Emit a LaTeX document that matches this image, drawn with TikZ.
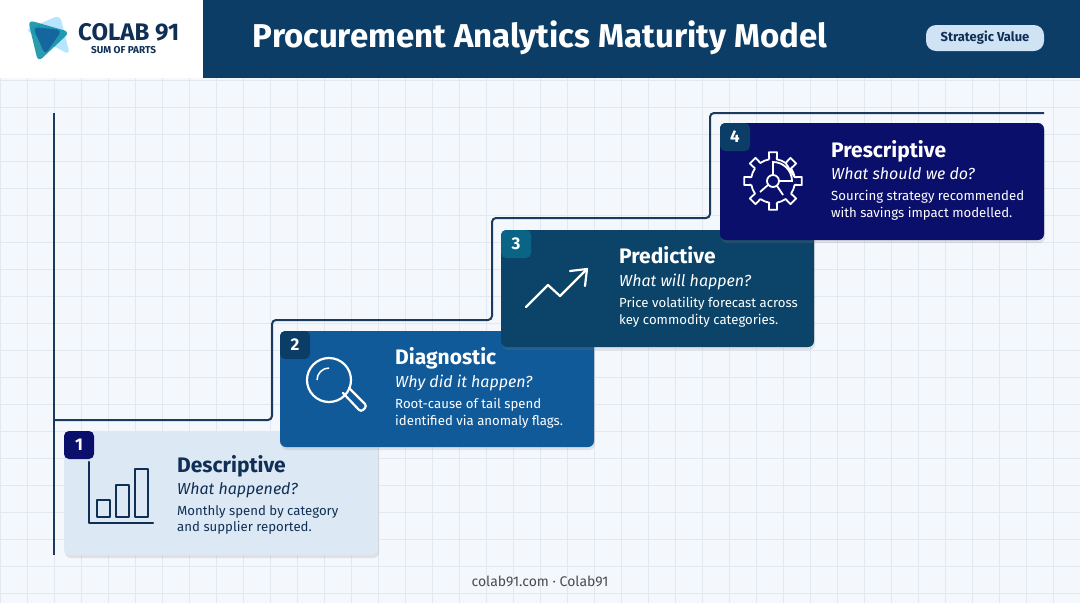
\documentclass[tikz,border=0pt]{standalone}
\usepackage{fontspec}
\setmainfont{Fira Sans}
\usetikzlibrary{shadows,calc}
\definecolor{bg}{HTML}{F4F7FB}
\definecolor{gridc}{HTML}{E2E8EF}
\definecolor{hdr}{HTML}{0B3D66}
\definecolor{stair}{HTML}{1B3A5C}
\definecolor{cA}{HTML}{DDE8F5}
\definecolor{cB}{HTML}{115A9A}
\definecolor{cC}{HTML}{0B4468}
\definecolor{cD}{HTML}{0A0F6B}
\definecolor{ink}{HTML}{0F2F55}
\definecolor{pill}{HTML}{CFE3F5}
\tikzset{
 card/.style={rounded corners=6pt,drop shadow={opacity=0.18,shadow xshift=1pt,shadow yshift=-3pt}},
 badge/.style={text=white,font=\bfseries\fontsize{17}{17}\selectfont,anchor=center},
 ttl/.style={anchor=base west,inner sep=0pt,font=\bfseries\fontsize{21}{21}\selectfont},
 qst/.style={anchor=base west,inner sep=0pt,font=\itshape\fontsize{16}{16}\selectfont},
 dsc/.style={anchor=north west,inner sep=0pt,align=left,font=\fontsize{13.2}{16.5}\selectfont},
 icon/.style={line width=2.2pt,line cap=round,line join=round}
}
\begin{document}
\begin{tikzpicture}[x=1pt,y=-1pt]
\useasboundingbox (0,0) rectangle (1080,603);
\fill[bg] (0,0) rectangle (1080,603);
\foreach \i in {0,...,40} {\draw[gridc,line width=0.6pt] (\i*27,78) -- (\i*27,603);}
\foreach \j in {0,...,20} {\draw[gridc,line width=0.6pt] (0,80+\j*27) -- (1080,80+\j*27);}
% header
\fill[white] (0,0) rectangle (203,78);
\fill[hdr] (203,0) rectangle (1080,78);
\node[text=white,font=\bfseries\fontsize{33}{33}\selectfont] (title) at (540,38) {Procurement Analytics Maturity Model};
\node[fill=pill,rounded corners=10pt,minimum width=118pt,minimum height=26pt,text=ink,font=\bfseries\fontsize{13}{13}\selectfont] (pill) at (985,38) {Strategic Value};
% logo
\fill[blue!35!cyan!40!white,opacity=0.7,rounded corners=6pt] (25,30) -- (60,15) -- (70,55) -- cycle;
\fill[hdr!60!cyan,opacity=0.85,rounded corners=6pt] (28,20) -- (70,32) -- (38,62) -- cycle;
\fill[cB,opacity=0.8,rounded corners=5pt] (33,27) -- (62,30) -- (45,55) -- cycle;
\node[anchor=west,inner sep=0pt,text=ink,font=\bfseries\fontsize{24}{24}\selectfont] (logo) at (78,32) {COLAB 91};
\node[anchor=west,inner sep=0pt,text=ink,font=\bfseries\fontsize{10}{10}\selectfont] (sub) at (91,50) {SUM OF PARTS};
% staircase
\draw[stair,line width=2pt,rounded corners=4pt] (54,555) -- (54,113);
\draw[stair,line width=2pt,rounded corners=4pt] (54,420) -- (272,420) -- (272,320) -- (492,320) -- (492,218) -- (710,218) -- (710,113) -- (1044,113);
% card 1
\fill[cA,card] (64,431) rectangle (378,555);
\fill[cD,rounded corners=5pt] (64,431) rectangle (94,459);
\node[badge] (b1) at (79,445) {1};
\node[ttl,text=ink] (t1) at (177,472) {Descriptive};
\node[qst,text=ink] (q1) at (177,494) {What happened?};
\node[dsc,text=ink] (d1) at (177,505) {Monthly spend by category\\and supplier reported.};
\draw[ink,icon] (89,462) -- (89,523) -- (153,523);
\draw[ink,icon] (97,500) rectangle (110,517) (116,485) rectangle (129,517) (135,469) rectangle (148,517);
% card 2
\fill[cB,card] (280,331) rectangle (594,447);
\fill[hdr,rounded corners=5pt] (280,331) rectangle (310,359);
\node[badge] (b2) at (295,345) {2};
\node[ttl,text=white] (t2) at (395,364) {Diagnostic};
\node[qst,text=white] (q2) at (395,387) {Why did it happen?};
\node[dsc,text=white] (d2) at (395,398) {Root-cause of tail spend\\identified via anomaly flags.};
\draw[white,icon] (329,380) circle (22);
\draw[white,line width=1.5pt] (317,380) arc (180:270:12);
\draw[white,icon,rounded corners=3pt] (343,393) -- (361,412) -- (367,406) -- (349,388);
% card 3
\fill[cC,card] (501,230) rectangle (814,347);
\fill[hdr!80!cyan,rounded corners=5pt] (501,230) rectangle (531,258);
\node[badge] (b3) at (516,244) {3};
\node[ttl,text=white] (t3) at (619,263) {Predictive};
\node[qst,text=white] (q3) at (619,286) {What will happen?};
\node[dsc,text=white] (d3) at (619,297) {Price volatility forecast across\\key commodity categories.};
\draw[white,icon] (526,307) -- (548,285) -- (560,296) -- (585,271);
\draw[white,icon] (570,271) -- (587,269) -- (585,286);
% card 4
\fill[cD,card] (720,123) rectangle (1044,240);
\fill[hdr,rounded corners=5pt] (720,123) rectangle (750,151);
\node[badge] (b4) at (735,137) {4};
\node[ttl,text=white] (t4) at (831,157) {Prescriptive};
\node[qst,text=white] (q4) at (831,179) {What should we do?};
\node[dsc,text=white] (d4) at (831,190) {Sourcing strategy recommended\\with savings impact modelled.};
\begin{scope}[shift={(773,181)}]
\draw[white,line width=1.8pt,line join=round]
 \foreach \a in {0,45,...,315} { ($(\a-10:22)$) -- ($(\a-8:29)$) -- ($(\a+8:29)$) -- ($(\a+10:22)$) arc[start angle=\a+10,end angle=\a+35,radius=22] } -- cycle;
\draw[white,line width=1.8pt] (0,0) circle (6);
\draw[white,line width=1.8pt] (0,-6) -- (0,-19) arc (-90:0:19) -- (6,0);
\draw[white,line width=1.8pt] (-5,4) -- (-13,11) (4,5) -- (10,14);
\end{scope}
% footer
\node[text=black!70,font=\fontsize{14}{14}\selectfont] (foot) at (540,581) {colab91.com · Colab91};
\end{tikzpicture}
\end{document}
